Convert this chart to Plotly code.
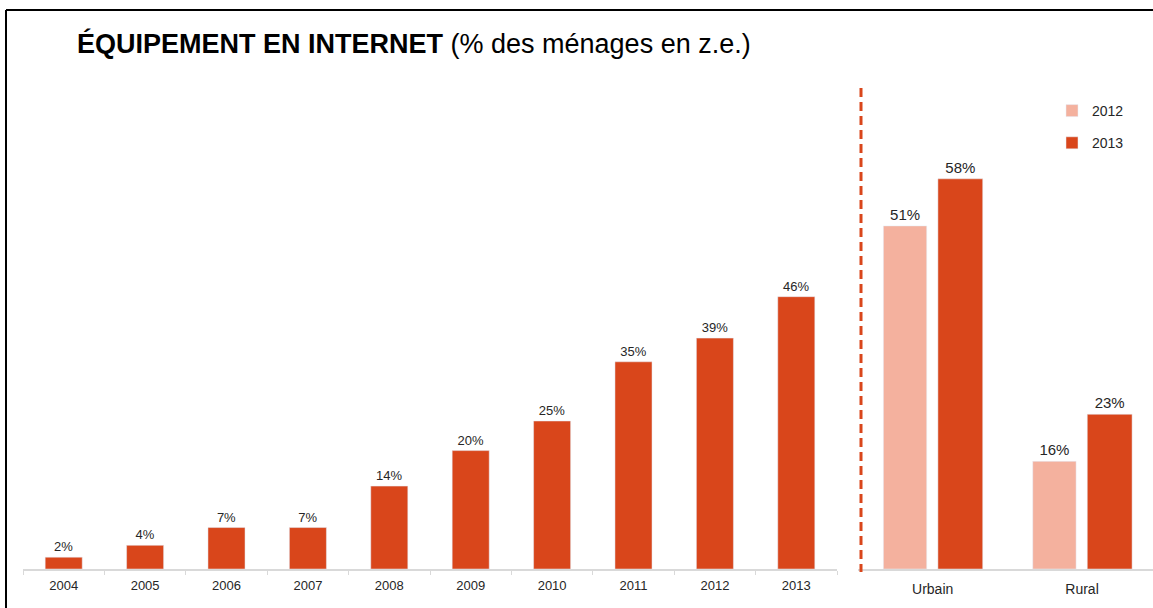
import plotly.graph_objects as go

years = ["2004", "2005", "2006", "2007", "2008", "2009", "2010", "2011", "2012", "2013"]
internet = [2, 4, 7, 7, 14, 20, 25, 35, 39, 46]

zones = ["Urbain", "Rural"]
zone_2012 = [51, 16]
zone_2013 = [58, 23]

DARK = "#D9461B"
LIGHT = "#F4B19E"
TXT = "#262626"
FONT = "Liberation Sans, Arial, sans-serif"

W, H = 1153, 608
def px(x): return x / W
def py(y): return (H - y) / H

fig = go.Figure()

fig.add_trace(go.Bar(
    x=years, y=internet, xaxis="x", yaxis="y",
    marker=dict(color=DARK), width=0.455,
    texttemplate="%{y}%", textposition="outside",
    textfont=dict(size=13, color=TXT, family=FONT),
    cliponaxis=False, showlegend=False, hoverinfo="x+y",
))

fig.add_trace(go.Bar(
    x=zones, y=zone_2012, xaxis="x2", yaxis="y2", name="2012",
    marker=dict(color=LIGHT), width=0.29, offset=-0.33,
    texttemplate="%{y}%", textposition="outside",
    textfont=dict(size=15, color=TXT, family=FONT),
    cliponaxis=False, legendgroup="a",
))
fig.add_trace(go.Bar(
    x=zones, y=zone_2013, xaxis="x2", yaxis="y2", name="2013",
    marker=dict(color=DARK), width=0.3, offset=0.035,
    texttemplate="%{y}%", textposition="outside",
    textfont=dict(size=15, color=TXT, family=FONT),
    cliponaxis=False, legendgroup="b",
))

base = py(569)
top = py(95.4)

fig.update_layout(
    width=W, height=H,
    margin=dict(l=0, r=0, t=0, b=0),
    paper_bgcolor="white", plot_bgcolor="white",
    barmode="overlay",
    font=dict(family=FONT, color=TXT),
    xaxis=dict(
        domain=[px(23), px(837)], range=[-0.5, 9.5], type="category",
        showline=True, linecolor="#D9D9D9", linewidth=2,
        ticks="outside", tickson="boundaries", ticklen=4, tickcolor="#D9D9D9",
        tickfont=dict(size=13, color=TXT, family=FONT),
        ticklabelstandoff=3,
        showgrid=False, zeroline=False, anchor="y",
    ),
    yaxis=dict(
        domain=[base, top], range=[0, 80], visible=False,
        showgrid=False, zeroline=False, anchor="x",
    ),
    xaxis2=dict(
        domain=[px(858), 1.0], range=[-0.5, 1.475], type="category",
        showline=True, linecolor="#D9D9D9", linewidth=2,
        ticks="", tickfont=dict(size=14, color=TXT, family=FONT),
        ticklabelstandoff=6,
        showgrid=False, zeroline=False, anchor="y2",
    ),
    yaxis2=dict(
        domain=[base, top], range=[0, 70.4], visible=False,
        showgrid=False, zeroline=False, anchor="x2",
    ),
    legend=dict(
        x=px(1052), y=py(95), xanchor="left", yanchor="top",
        font=dict(size=14, color=TXT, family=FONT),
        tracegroupgap=11, traceorder="grouped", itemwidth=30,
        bgcolor="rgba(0,0,0,0)",
    ),
    annotations=[dict(
        x=px(75), y=py(44), xref="paper", yref="paper",
        xanchor="left", yanchor="middle", showarrow=False,
        text="<b>ÉQUIPEMENT EN INTERNET</b> (% des ménages en z.e.)",
        font=dict(size=27, color="#000000", family=FONT),
    )],
    shapes=[
        dict(type="line", xref="paper", yref="paper",
             x0=px(861), x1=px(861), y0=py(88), y1=py(572),
             line=dict(color=DARK, width=3, dash="9px,5px")),
        dict(type="line", xref="paper", yref="paper",
             x0=px(6), x1=1.0, y0=py(10), y1=py(10),
             line=dict(color="#000000", width=2)),
        dict(type="line", xref="paper", yref="paper",
             x0=px(6), x1=px(6), y0=py(10), y1=0,
             line=dict(color="#000000", width=2)),
    ],
)

fig.write_html(
    "out.html",
    config={"displayModeBar": False},
    post_script="document.body.style.margin='0';document.body.style.overflow='hidden';",
)
